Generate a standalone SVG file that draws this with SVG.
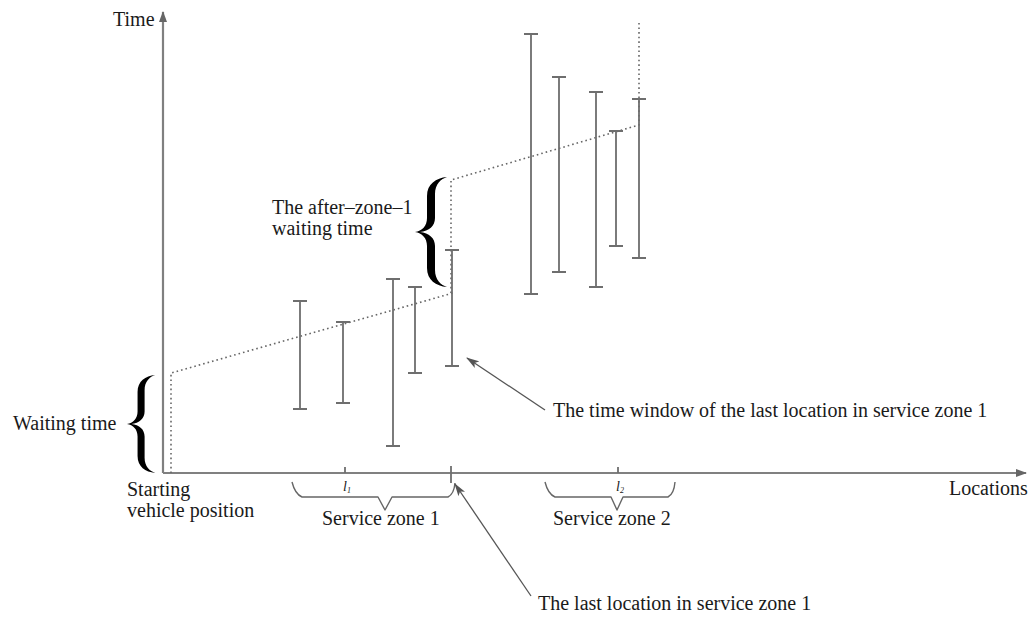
<svg xmlns="http://www.w3.org/2000/svg" width="1029" height="618" viewBox="0 0 1029 618">
<style>
text{font-family:"Liberation Serif","Times New Roman",serif;font-size:20px;fill:#1a1a1a}
.ax{stroke:#808080;stroke-width:2.2;fill:none}
.bar{stroke:#6e6e6e;stroke-width:1.8;fill:none}
.dot{stroke:#666;stroke-width:1.6;stroke-dasharray:1.6 3;fill:none}
.ub{stroke:#666;stroke-width:1.4;fill:none;stroke-linejoin:round}
.lead{stroke:#555;stroke-width:1.3;fill:none}
.brace{fill:#000}
</style>
<defs>
<marker id="axh" markerUnits="userSpaceOnUse" markerWidth="11" markerHeight="8" refX="10" refY="4" orient="auto">
<path d="M0,0 L11,4 L0,8 Z" fill="#666"/>
</marker>
<marker id="ah" markerUnits="userSpaceOnUse" markerWidth="13" markerHeight="8" refX="12" refY="4" orient="auto">
<path d="M0,0 L13,4 L0,8 L3,4 Z" fill="#555"/>
</marker>
<path id="br" d="M32,-55 C21,-54 12,-48 12,-36 L12,-14 C12,-6 7,-1 0,0 C7,1 12,6 12,14 L12,36 C12,48 21,54 32,55 C26,53 20,48 20,38 L20,14 C20,6 14,1 5,0 C14,-1 20,-6 20,-14 L20,-38 C20,-48 26,-53 32,-55 Z"/>
</defs>

<g id="axes">
<line class="ax" x1="163" y1="473" x2="163" y2="12" marker-end="url(#axh)"/>
<line class="ax" x1="163" y1="473" x2="1026" y2="473" marker-end="url(#axh)"/>
<line class="bar" x1="345" y1="467" x2="345" y2="473"/>
<line class="bar" x1="451" y1="466" x2="451" y2="483"/>
<line class="bar" x1="618" y1="467" x2="618" y2="473"/>
</g>

<g id="path-dotted">
<polyline class="dot" points="171,473 171,373 453,293"/>
<polyline class="dot" points="451,293 451,180 639,125 639,22"/>
</g>

<g id="windows-zone1">
<path class="bar" d="M300,301 V409 M293,301 H307 M293,409 H307"/>
<path class="bar" d="M343,322 V403 M336,322 H350 M336,403 H350"/>
<path class="bar" d="M393,279 V446 M386,279 H400 M386,446 H400"/>
<path class="bar" d="M415,287 V373 M408,287 H422 M408,373 H422"/>
<path class="bar" d="M452,250 V366 M445,250 H459 M445,366 H459"/>
</g>

<g id="windows-zone2">
<path class="bar" d="M531,34 V294 M524,34 H538 M524,294 H538"/>
<path class="bar" d="M559,77 V272 M552,77 H566 M552,272 H566"/>
<path class="bar" d="M596,92 V287 M589,92 H603 M589,287 H603"/>
<path class="bar" d="M616,131 V246 M609,131 H623 M609,246 H623"/>
<path class="bar" d="M639,99 V258 M632,99 H646 M632,258 H646"/>
</g>

<g id="brace-waiting">
<use href="#br" class="brace" transform="translate(127,424) scale(0.88,0.89)"/>
<text x="13" y="430">Waiting time</text>
</g>

<g id="brace-after-zone1">
<use href="#br" class="brace" transform="translate(415,232)"/>
<text x="272" y="214">The after–zone–1</text>
<text x="272" y="235">waiting time</text>
</g>

<g id="zone1">
<path class="ub" d="M292,482 Q295,494 302,497 L378,497 L385,510 L392,497 L448,497 Q454,494 455,483"/>
<text x="322" y="525">Service zone 1</text>
<text x="343" y="491" style="font-size:14px;font-style:italic">l<tspan style="font-size:8px" dy="2">1</tspan></text>
</g>

<g id="zone2">
<path class="ub" d="M545,482 Q548,494 555,497 L611,497 L617,510 L623,497 L668,497 Q674,494 675,482"/>
<text x="553" y="525">Service zone 2</text>
<text x="616" y="491" style="font-size:14px;font-style:italic">l<tspan style="font-size:8px" dy="2">2</tspan></text>
</g>

<g id="labels">
<text x="113" y="26">Time</text>
<text x="949" y="495">Locations</text>
<text x="127" y="496">Starting</text>
<text x="127" y="517">vehicle position</text>
</g>

<g id="connectors">
<line class="lead" x1="545" y1="410" x2="467" y2="358" marker-end="url(#ah)"/>
<line class="lead" x1="531" y1="596" x2="455" y2="484" marker-end="url(#ah)"/>
</g>

<g id="annotations">
<text x="553" y="417">The time window of the last location in service zone 1</text>
<text x="538" y="610">The last location in service zone 1</text>
</g>
</svg>
